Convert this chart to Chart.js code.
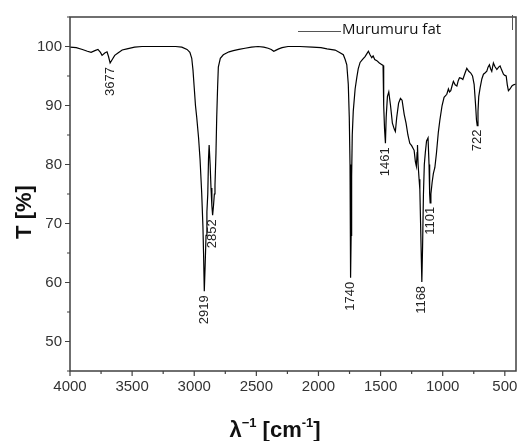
<!DOCTYPE html>
<html><head><meta charset="utf-8">
<script src="https://cdn.jsdelivr.net/npm/chart.js@4.4.1/dist/chart.umd.min.js"></script>
<style>html,body{margin:0;padding:0;background:#fff}#wrap{width:517px;height:441px}</style>
</head><body><div id="wrap"><canvas id="c" width="517" height="441"></canvas></div>
<script>
const wavenumbers = [4000,3950,3900,3860,3830,3800,3775,3755,3742,3720,3702,3690,3677,3660,3640,3614,3580,3541,3480,3420,3300,3200,3150,3100,3058,3035,3020,3010,3000,2990,2980,2965,2953,2940,2930,2925,2919,2912,2905,2898,2891,2885,2880,2872,2865,2858,2852,2845,2838,2833,2825,2819,2812,2806,2790,2766,2720,2685,2640,2591,2540,2486,2440,2405,2380,2360,2349,2320,2293,2245,2150,2050,1980,1931,1866,1830,1800,1785,1772,1760,1752,1746,1743,1740,1737,1733,1728,1720,1705,1691,1680,1665,1645,1625,1610,1598,1585,1571,1560,1547,1530,1510,1495,1480,1475,1468,1461,1455,1445,1434,1420,1405,1390,1381,1370,1355,1340,1327,1310,1295,1280,1265,1250,1240,1230,1220,1212,1206,1203,1198,1190,1184,1178,1172,1168,1162,1155,1148,1140,1130,1118,1110,1105,1101,1095,1085,1075,1063,1050,1035,1023,1005,989,967,954,945,935,925,914,900,886,875,865,850,838,820,806,790,774,760,747,735,728,722,716,710,699,685,672,660,645,635,624,614,605,598,592,580,564,550,538,525,511,500,489,480,471,458,443,430,417,409];
const transmittance = [99.9,99.8,99.5,99.2,99.0,99.3,99.5,99.0,98.5,98.9,99.1,98.3,97.2,97.8,98.5,98.9,99.4,99.6,99.9,100.0,100.0,100.0,100.0,99.9,99.5,99.0,98.0,96.0,93.0,90.0,88.0,84.5,80.8,75.2,69.5,65.0,58.5,63.0,68.0,72.0,75.0,81.0,83.3,80.0,76.0,73.0,71.4,73.0,75.0,76.5,82.0,88.0,93.0,96.5,98.0,98.6,99.1,99.3,99.5,99.7,99.9,100.0,99.9,99.7,99.5,99.2,99.3,99.6,99.8,100.0,100.0,99.9,99.8,99.6,99.4,99.0,98.6,97.8,96.9,93.6,88.0,80.0,70.0,60.8,68.0,78.0,85.0,89.0,92.8,94.8,96.2,97.3,97.8,98.3,98.8,99.2,98.6,98.1,98.4,97.8,97.6,97.2,97.0,96.8,90.0,86.0,83.6,88.0,91.5,92.3,90.0,87.0,86.0,85.6,88.0,90.4,91.2,90.9,88.5,87.0,85.0,83.6,83.2,82.8,82.4,80.5,79.7,82.0,83.3,80.0,77.5,75.8,70.0,64.0,60.1,66.0,75.0,80.0,82.0,84.0,84.5,80.0,75.0,73.5,75.0,77.0,78.5,79.5,82.0,85.5,87.5,90.0,91.4,91.9,92.8,92.3,92.5,93.3,94.1,93.5,93.3,94.2,94.7,94.6,94.4,95.5,96.3,95.8,95.5,95.0,93.6,90.0,87.5,86.6,89.0,91.5,93.0,94.5,95.3,95.5,95.8,96.5,96.9,96.2,95.8,96.6,97.2,96.6,96.1,96.5,96.7,96.0,95.3,95.1,95.0,93.5,92.5,92.8,93.3,93.5,93.6,93.6];
const xTickValues = [500,1000,1500,2000,2500,3000,3500,4000];
const xMinorValues = [750,1250,1750,2250,2750,3250,3750];
const yTickValues = [50,60,70,80,90,100];
const yMinorValues = [45,55,65,75,85,95,105];
const peakLabels = ['3677','2919','2852','1740','1461','1168','1101','722'];
const seriesName = 'Murumuru fat';

const FONT = '"Liberation Sans", Arial, sans-serif';

const decor = {
  id: 'decor',
  afterDraw(chart) {
    const ctx = chart.ctx, a = chart.chartArea;
    const xs = chart.scales.x, ys = chart.scales.y;
    ctx.save();
    // frame
    ctx.strokeStyle = '#404040';
    ctx.lineWidth = 1.5;
    ctx.strokeRect(a.left, a.top, a.right - a.left, a.bottom - a.top);
    // ticks
    ctx.lineWidth = 1.2;
    ctx.beginPath();
    xTickValues.forEach(v => { const p = xs.getPixelForValue(v); ctx.moveTo(p, a.bottom); ctx.lineTo(p, a.bottom + 5); });
    xMinorValues.forEach(v => { const p = xs.getPixelForValue(v); ctx.moveTo(p, a.bottom); ctx.lineTo(p, a.bottom + 3); });
    yTickValues.forEach(v => { const p = ys.getPixelForValue(v); ctx.moveTo(a.left, p); ctx.lineTo(a.left - 5, p); });
    yMinorValues.forEach(v => { const p = ys.getPixelForValue(v); ctx.moveTo(a.left, p); ctx.lineTo(a.left - 3, p); });
    ctx.stroke();
    // peak labels
    ctx.fillStyle = '#222';
    ctx.font = '13px ' + FONT;
    ctx.textAlign = 'right';
    ctx.textBaseline = 'middle';
    peakLabels.forEach(lbl => {
      const w = +lbl;
      const i = wavenumbers.indexOf(w);
      const px = xs.getPixelForValue(w);
      const py = ys.getPixelForValue(transmittance[i]) + 4;
      ctx.save();
      ctx.translate(px, py);
      ctx.rotate(-Math.PI / 2);
      ctx.fillText(lbl, 0, 0);
      ctx.restore();
    });
    // y title
    ctx.fillStyle = '#111';
    ctx.font = 'bold 22px ' + FONT;
    ctx.textAlign = 'center';
    ctx.textBaseline = 'middle';
    ctx.save();
    ctx.translate(25, 212);
    ctx.rotate(-Math.PI / 2);
    ctx.fillText('T [%]', 0, 0);
    ctx.restore();
    // x title with superscripts
    const parts = [['λ', 0], ['−1', 1], [' [cm', 0], ['-1', 1], [']', 0]];
    const big = 'bold 22px ' + FONT, small = 'bold 13px ' + FONT;
    let total = 0;
    parts.forEach(p => { ctx.font = p[1] ? small : big; total += ctx.measureText(p[0]).width; });
    let x = 275 - total / 2;
    ctx.textAlign = 'left';
    ctx.textBaseline = 'alphabetic';
    parts.forEach(p => {
      ctx.font = p[1] ? small : big;
      ctx.fillText(p[0], x, p[1] ? 427 : 437);
      x += ctx.measureText(p[0]).width;
    });
    // legend
    ctx.strokeStyle = '#555';
    ctx.lineWidth = 1;
    ctx.beginPath();
    ctx.moveTo(298, 31.5); ctx.lineTo(341, 31.5);
    ctx.moveTo(512.5, 15); ctx.lineTo(512.5, 30);
    ctx.stroke();
    ctx.fillStyle = '#111';
    ctx.font = '15px "Open Sans", sans-serif';
    ctx.textAlign = 'left';
    ctx.textBaseline = 'middle';
    ctx.fillText(seriesName, 342, 30);
    ctx.restore();
  }
};

new Chart(document.getElementById('c'), {
  type: 'line',
  data: {
    datasets: [{
      label: seriesName,
      data: wavenumbers.map((w, i) => ({ x: w, y: transmittance[i] })),
      borderColor: '#000',
      borderWidth: 1.2,
      pointRadius: 0,
      tension: 0,
      fill: false
    }]
  },
  options: {
    responsive: false,
    animation: false,
    layout: { padding: { left: 0, right: 1, top: 12, bottom: 0 } },
    plugins: { legend: { display: false }, tooltip: { enabled: false } },
    scales: {
      x: {
        type: 'linear', reverse: true, min: 410, max: 4000,
        afterBuildTicks: s => { s.ticks = xTickValues.map(v => ({ value: v })); },
        afterFit: s => { s.height = 70; },
        ticks: { font: { family: FONT, size: 15 }, color: '#333', padding: 7, maxRotation: 0, autoSkip: false, callback: v => String(v) },
        grid: { display: false, drawTicks: false },
        border: { display: false }
      },
      y: {
        min: 45, max: 105,
        afterBuildTicks: s => { s.ticks = yTickValues.map(v => ({ value: v })); },
        afterFit: s => { s.width = 70; },
        ticks: { font: { family: FONT, size: 15 }, color: '#333', padding: 8, autoSkip: false, callback: v => String(v) },
        grid: { display: false, drawTicks: false },
        border: { display: false }
      }
    }
  },
  plugins: [decor]
});
</script></body></html>
